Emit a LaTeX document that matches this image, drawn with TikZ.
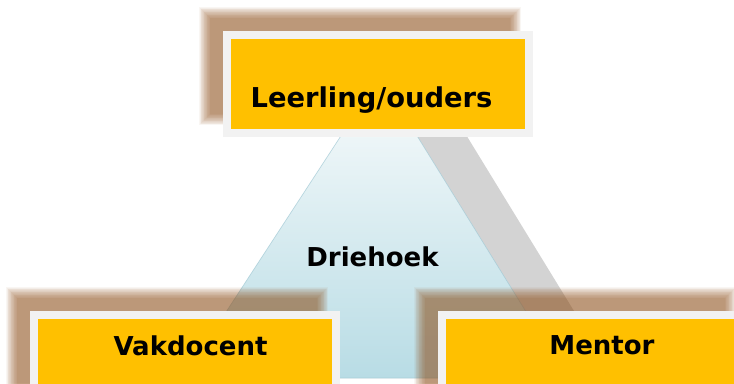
\documentclass[tikz,border=0pt]{standalone}
\usepackage{fontspec}
\setmainfont{DejaVu Sans}

\definecolor{boxgold}{RGB}{255,192,0}
\definecolor{boxrim}{RGB}{242,242,242}
\definecolor{shadebrown}{RGB}{146,82,28}
\definecolor{trigrey}{RGB}{211,211,211}
\definecolor{tritop}{RGB}{250,252,252}
\definecolor{tribottom}{RGB}{184,220,229}
\definecolor{triedge}{RGB}{160,200,212}

\tikzset{
	box/.style={draw=boxrim, line width=6pt, fill=boxgold, minimum width=226.5pt, minimum height=73.5pt, inner sep=0pt},
	lbl/.style={anchor=base, inner sep=0.75pt, font=\bfseries\fontsize{19.5}{23}\selectfont},
	boxshadow/.style={fill=shadebrown, fill opacity=0.05},
}

\begin{document}
\begin{tikzpicture}[x=0.75pt,y=0.75pt,yscale=-1,xscale=1]
	\useasboundingbox (0,0) rectangle (734,383);
	\clip (0,0) rectangle (734,383);
	\fill [white] (0,0) rectangle (734,383);

	%Shape: Triangle (grey shadow)
	\fill [trigrey] (430,76) -- (233,378) -- (615,378) -- cycle ;
	%Shape: Triangle
	\draw [draw=triedge, draw opacity=0.7, line width=0.5, top color=tritop, bottom color=tribottom] (380,76) -- (183,378) -- (567,378) -- cycle ;

	%Shape: Box shadows
	\foreach \sx/\sy in {205/13, 12/293, 420/293} {
		\foreach \k in {0,...,15} {
			\fill [boxshadow] (\sx-6+0.75*\k,\sy-6+0.75*\k) rectangle ++(322-1.5*\k,118-1.5*\k) ;
		}
	}

	%Shape: Boxes
	\node [box] (leerling) at (378,84) {};
	\node [box] (vakdocent) at (185,364) {};
	\node [box] (mentor) at (593,364) {};

	% Text Node
	\node [lbl, font=\bfseries\fontsize{20.5}{24}\selectfont] (leerlingtxt) at (371.5,107) {Leerling/ouders};
	% Text Node
	\node [lbl] (driehoektxt) at (372.5,266) {Driehoek};
	% Text Node
	\node [lbl] (vakdocenttxt) at (190.5,355) {Vakdocent};
	% Text Node
	\node [lbl] (mentortxt) at (602,354) {Mentor};
\end{tikzpicture}
\end{document}
